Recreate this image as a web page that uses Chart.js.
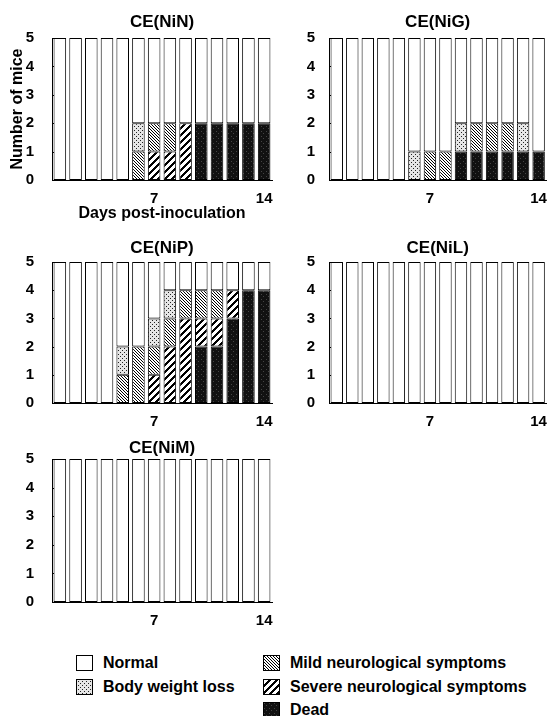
<!DOCTYPE html>
<html>
<head>
<meta charset="utf-8">
<script src="https://cdn.jsdelivr.net/npm/chart.js@4"></script>
<style>
	body { margin: 0; background: #fff; width: 549px; height: 716px; position: relative; overflow: hidden; }
	canvas.panel { position: absolute; }
	.key { position: absolute; font: bold 16px "Liberation Sans", Arial, sans-serif; color: #000; height: 18px; line-height: 18px; white-space: nowrap; }
	.key canvas { position: absolute; left: 0; top: 1px; }
	.key span { position: absolute; top: 0; }
</style>
</head>
<body>
<canvas id="pNiN" class="panel" width="276" height="228" style="left:0px;top:0px"></canvas>
<canvas id="pNiG" class="panel" width="272" height="228" style="left:277px;top:0px"></canvas>
<canvas id="pNiP" class="panel" width="276" height="200" style="left:0px;top:228px"></canvas>
<canvas id="pNiL" class="panel" width="272" height="200" style="left:277px;top:228px"></canvas>
<canvas id="pNiM" class="panel" width="276" height="200" style="left:0px;top:428px"></canvas>
<div id="legend"></div>
<script>
// days post-inoculation, only 7 and 14 are labelled
const days = [1, 2, 3, 4, 5, 6, 7, 8, 9, 10, 11, 12, 13, 14];
const labeledDays = [7, 14];
const statusNames = ["Normal", "Body weight loss", "Mild neurological symptoms", "Severe neurological symptoms", "Dead"];

// number of mice per status, per day
const ninNormal = [5, 5, 5, 5, 5, 3, 3, 3, 3, 3, 3, 3, 3, 3];
const ninLoss = [0, 0, 0, 0, 0, 1, 0, 0, 0, 0, 0, 0, 0, 0];
const ninMild = [0, 0, 0, 0, 0, 1, 1, 1, 0, 0, 0, 0, 0, 0];
const ninSevere = [0, 0, 0, 0, 0, 0, 1, 1, 2, 0, 0, 0, 0, 0];
const ninDead = [0, 0, 0, 0, 0, 0, 0, 0, 0, 2, 2, 2, 2, 2];

const nigNormal = [5, 5, 5, 5, 5, 4, 4, 4, 3, 3, 3, 3, 3, 4];
const nigLoss = [0, 0, 0, 0, 0, 1, 0, 0, 1, 0, 0, 0, 1, 0];
const nigMild = [0, 0, 0, 0, 0, 0, 1, 1, 0, 1, 1, 1, 0, 0];
const nigSevere = [0, 0, 0, 0, 0, 0, 0, 0, 0, 0, 0, 0, 0, 0];
const nigDead = [0, 0, 0, 0, 0, 0, 0, 0, 1, 1, 1, 1, 1, 1];

const nipNormal = [5, 5, 5, 5, 3, 3, 2, 1, 1, 1, 1, 1, 1, 1];
const nipLoss = [0, 0, 0, 0, 1, 0, 1, 1, 0, 0, 0, 0, 0, 0];
const nipMild = [0, 0, 0, 0, 1, 2, 1, 1, 1, 1, 1, 0, 0, 0];
const nipSevere = [0, 0, 0, 0, 0, 0, 1, 2, 3, 1, 1, 1, 0, 0];
const nipDead = [0, 0, 0, 0, 0, 0, 0, 0, 0, 2, 2, 3, 4, 4];

const nilNormal = [5, 5, 5, 5, 5, 5, 5, 5, 5, 5, 5, 5, 5, 5];
const nilLoss = [0, 0, 0, 0, 0, 0, 0, 0, 0, 0, 0, 0, 0, 0];
const nilMild = [0, 0, 0, 0, 0, 0, 0, 0, 0, 0, 0, 0, 0, 0];
const nilSevere = [0, 0, 0, 0, 0, 0, 0, 0, 0, 0, 0, 0, 0, 0];
const nilDead = [0, 0, 0, 0, 0, 0, 0, 0, 0, 0, 0, 0, 0, 0];

const nimNormal = [5, 5, 5, 5, 5, 5, 5, 5, 5, 5, 5, 5, 5, 5];
const nimLoss = [0, 0, 0, 0, 0, 0, 0, 0, 0, 0, 0, 0, 0, 0];
const nimMild = [0, 0, 0, 0, 0, 0, 0, 0, 0, 0, 0, 0, 0, 0];
const nimSevere = [0, 0, 0, 0, 0, 0, 0, 0, 0, 0, 0, 0, 0, 0];
const nimDead = [0, 0, 0, 0, 0, 0, 0, 0, 0, 0, 0, 0, 0, 0];

Chart.defaults.font.family = "'Liberation Sans', Arial, sans-serif";
Chart.defaults.font.weight = "bold";
Chart.defaults.color = "#000";

// fill patterns
function makeTile(size, bg, draw) {
	var c = document.createElement("canvas");
	c.width = size;
	c.height = size;
	var g = c.getContext("2d");
	g.fillStyle = bg;
	g.fillRect(0, 0, size, size);
	draw(g, size);
	return document.createElement("canvas").getContext("2d").createPattern(c, "repeat");
}

const fills = [
	"#ffffff",
	makeTile(4, "#e6e6e6", (g, n) => {
		g.fillStyle = "#222";
		g.fillRect(0, 0, 1, 1);
		g.fillRect(2, 2, 1, 1);
	}),
	makeTile(3, "#ffffff", (g, n) => {
		g.fillStyle = "#000";
		for (var i = 0; i < n; i++) g.fillRect(i, i, 1, 1);
	}),
	makeTile(7, "#ffffff", (g, n) => {
		g.fillStyle = "#000";
		for (var y = 0; y < n; y++) {
			for (var k = 0; k < 3; k++) g.fillRect((n - 1 - y + k) % n, y, 1, 1);
		}
	}),
	makeTile(5, "#111111", (g, n) => {
		g.fillStyle = "#444";
		g.fillRect(1, 1, 1, 1);
		g.fillRect(3, 3, 1, 1);
	}),
];

// small ticks pointing into the plot, plus the panel title centred over the plot area
const panelDecor = {
	id: "panelDecor",
	afterDraw(chart, args, opts) {
		var y = chart.scales.y;
		var ctx = chart.ctx;
		var area = chart.chartArea;
		ctx.save();
		ctx.strokeStyle = "#000";
		ctx.lineWidth = 1;
		for (var i = 0; i < y.ticks.length; i++) {
			var py = Math.round(y.getPixelForTick(i)) + 0.5;
			ctx.beginPath();
			ctx.moveTo(area.left, py);
			ctx.lineTo(area.left + 2, py);
			ctx.stroke();
		}
		ctx.fillStyle = "#000";
		ctx.font = "bold 17px 'Liberation Sans', Arial, sans-serif";
		ctx.textAlign = "center";
		ctx.textBaseline = "middle";
		ctx.fillText(opts.text, (area.left + area.right) / 2, area.top - opts.gap);
		ctx.restore();
	},
};

function drawPanel(id, title, series, opts) {
	// series in status order: normal, loss, mild, severe, dead; stacked with dead at the bottom
	var datasets = [];
	for (var s = series.length - 1; s >= 0; s--) {
		datasets.push({
			label: statusNames[s],
			data: series[s].map(v => (v === 0 ? null : v)),
			backgroundColor: fills[s],
			borderColor: "#000",
			borderWidth: 1,
			borderSkipped: false,
			barPercentage: 0.8,
			categoryPercentage: 1,
		});
	}
	new Chart(document.getElementById(id), {
		type: "bar",
		data: { labels: days, datasets: datasets },
		options: {
			responsive: false,
			animation: false,
			layout: { padding: { top: opts.top, right: opts.padRight, left: 0, bottom: 0 } },
			plugins: {
				legend: { display: false },
				tooltip: { enabled: false },
				title: { display: false },
				panelDecor: { text: title, gap: opts.titleGap },
			},
			scales: {
				x: {
					stacked: true,
					grid: { display: false },
					border: { display: true, color: "#000", width: 1 },
					ticks: {
						autoSkip: false,
						maxRotation: 0,
						padding: 2,
						font: { size: 15, weight: "bold" },
						callback: function (v, i) {
							return labeledDays.indexOf(days[i]) >= 0 ? String(days[i]) : "";
						},
					},
					title: {
						display: !!opts.xTitle,
						text: opts.xTitle || "",
						font: { size: 16, weight: "bold" },
						padding: { top: 0, bottom: 5 },
					},
					afterFit: s => { s.height = opts.xHeight; },
				},
				y: {
					stacked: true,
					min: 0,
					max: 5,
					grid: { display: false },
					border: { display: true, color: "#000", width: 1 },
					ticks: {
						stepSize: 1,
						padding: opts.tickGap,
						font: { size: 15, weight: "bold" },
					},
					title: {
						display: !!opts.yTitle,
						text: opts.yTitle || "",
						font: { size: 16, weight: "bold" },
						padding: { top: 8, bottom: 0 },
					},
					afterFit: s => { s.width = 52; },
				},
			},
		},
		plugins: [panelDecor],
	});
}

drawPanel("pNiN", "CE(NiN)", [ninNormal, ninLoss, ninMild, ninSevere, ninDead],
	{ top: 38, titleGap: 16, padRight: 4, xHeight: 48, tickGap: 10, xTitle: "Days post-inoculation", yTitle: "Number of mice" });
drawPanel("pNiG", "CE(NiG)", [nigNormal, nigLoss, nigMild, nigSevere, nigDead],
	{ top: 38, titleGap: 16, padRight: 1, xHeight: 48, tickGap: 6 });
drawPanel("pNiP", "CE(NiP)", [nipNormal, nipLoss, nipMild, nipSevere, nipDead],
	{ top: 34, titleGap: 14, padRight: 4, xHeight: 25, tickGap: 10 });
drawPanel("pNiL", "CE(NiL)", [nilNormal, nilLoss, nilMild, nilSevere, nilDead],
	{ top: 34, titleGap: 14, padRight: 1, xHeight: 25, tickGap: 6 });
drawPanel("pNiM", "CE(NiM)", [nimNormal, nimLoss, nimMild, nimSevere, nimDead],
	{ top: 31, titleGap: 11, padRight: 4, xHeight: 26, tickGap: 10 });

// legend, two columns
const legendSpots = [
	{ x: 76, y: 654 },
	{ x: 76, y: 678 },
	{ x: 263, y: 654 },
	{ x: 263, y: 678 },
	{ x: 263, y: 701 },
];
var legend = document.getElementById("legend");
for (var i = 0; i < statusNames.length; i++) {
	var item = document.createElement("div");
	item.className = "key";
	item.style.left = legendSpots[i].x + "px";
	item.style.top = legendSpots[i].y + "px";
	var sw = document.createElement("canvas");
	sw.width = 17;
	sw.height = 16;
	var g = sw.getContext("2d");
	g.fillStyle = fills[i];
	g.fillRect(0, 0, 17, 16);
	g.strokeStyle = "#000";
	g.lineWidth = 1;
	g.strokeRect(0.5, 0.5, 16, 15);
	item.appendChild(sw);
	var label = document.createElement("span");
	label.style.left = "27px";
	label.textContent = statusNames[i];
	item.appendChild(label);
	legend.appendChild(item);
}
</script>
</body>
</html>
